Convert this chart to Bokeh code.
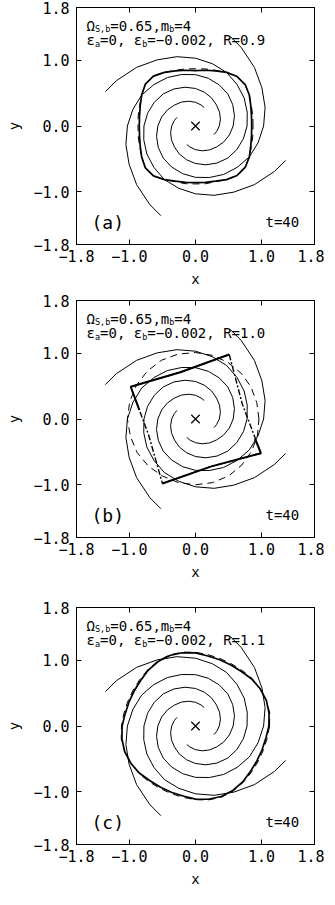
import numpy as np
from bokeh.plotting import figure
from bokeh.models import Range1d, FixedTicker, LinearAxis, Label
from bokeh.layouts import column
from bokeh.embed import file_html
from bokeh.resources import INLINE

FONT = "DejaVu Sans Mono"

# ---------------- data ----------------
ticks = [-1.8, -1.0, 0.0, 1.0, 1.8]
tick_labels = ["\u22121.8", "\u22121.0", "0.0", "1.0", "1.8"]

# one spiral arm, polar (deg, radius), inner end -> outer end
arm_theta = [-295, -285, -270, -255, -240, -225, -210, -195, -180, -165, -150, -135,
             -120, -105, -90, -75, -60, -45, -30, -15, 0, 15, 30, 45, 60, 69]
arm_r = [0.31, 0.33, 0.36, 0.39, 0.42, 0.45, 0.49, 0.53, 0.57, 0.61, 0.65, 0.69,
         0.72, 0.75, 0.78, 0.81, 0.85, 0.89, 0.94, 0.98, 1.03, 1.09, 1.16, 1.26, 1.38, 1.46]
# the four arms (m_b = 4) are copies of it turned by these angles
arm_rotation = [0, 90, 180, 270]

centre_x = [0.0]
centre_y = [0.0]

ang10 = list(range(0, 360, 10))
ang15 = list(range(0, 360, 15))

# panel (a), R = 0.9 : rounded square
a_solid_r = [0.85, 0.86, 0.89, 0.94, 0.98, 0.98, 0.94, 0.89, 0.86,
             0.84, 0.86, 0.89, 0.94, 0.99, 0.99, 0.94, 0.89, 0.86,
             0.85, 0.86, 0.89, 0.94, 0.99, 0.99, 0.94, 0.89, 0.87,
             0.86, 0.87, 0.89, 0.94, 0.98, 0.98, 0.94, 0.89, 0.86]
a_dash_r = [0.87, 0.88, 0.90, 0.94, 0.98, 0.98, 0.94, 0.90, 0.88,
            0.87, 0.88, 0.90, 0.94, 0.99, 0.99, 0.94, 0.90, 0.88,
            0.87, 0.88, 0.90, 0.94, 0.99, 0.99, 0.94, 0.90, 0.89,
            0.88, 0.89, 0.90, 0.94, 0.98, 0.98, 0.94, 0.90, 0.88]

# panel (b), R = 1.0 : tilted square and dashed circle
b_square_x = [0.51, 0.71, 0.99, 0.24, -0.50, -0.71, -0.98, -0.23]
b_square_y = [0.98, 0.22, -0.52, -0.72, -0.98, -0.24, 0.49, 0.71]
b_upper_x = [-0.85, -0.98, -0.23, 0.51]
b_upper_y = [0.14, 0.49, 0.71, 0.98]
b_lower_x = [0.90, 0.99, 0.24, -0.50]
b_lower_y = [-0.30, -0.52, -0.72, -0.98]
b_dash_r = [0.96, 0.96, 0.97, 0.98, 0.99, 1.00, 1.01, 1.02, 1.03, 1.03, 1.03, 1.03,
            1.03, 1.02, 1.02, 1.01, 1.00, 1.00, 1.00, 1.00, 1.00, 0.99, 0.98, 0.97]

# panel (c), R = 1.1 : nearly round
c_solid_r = [1.11, 1.13, 1.14, 1.13, 1.11, 1.08, 1.07, 1.07, 1.08,
             1.11, 1.13, 1.14, 1.13, 1.11, 1.08, 1.07, 1.07, 1.08,
             1.11, 1.13, 1.14, 1.13, 1.11, 1.08, 1.07, 1.07, 1.08,
             1.11, 1.13, 1.14, 1.13, 1.11, 1.08, 1.07, 1.07, 1.08]
c_dash_r = [1.12, 1.14, 1.14, 1.13, 1.12, 1.10, 1.09, 1.09, 1.10,
            1.12, 1.14, 1.15, 1.14, 1.12, 1.10, 1.09, 1.09, 1.10,
            1.12, 1.14, 1.14, 1.13, 1.12, 1.10, 1.09, 1.09, 1.10,
            1.12, 1.14, 1.15, 1.14, 1.12, 1.10, 1.09, 1.09, 1.10]

panel_letters = ["(a)", "(b)", "(c)"]
panel_R = ["0.9", "1.0", "1.1"]
omega_sb = "0.65"
m_b = "4"
eps_a = "0"
eps_b = "\u22120.002"
time_label = "t=40"


# ---------------- helpers ----------------
def polar(theta_deg, r, closed=False):
    th = np.radians(np.asarray(theta_deg, dtype=float))
    rr = np.asarray(r, dtype=float)
    x = rr * np.cos(th)
    y = rr * np.sin(th)
    if closed:
        x = np.append(x, x[0])
        y = np.append(y, y[0])
    return list(x), list(y)


def closed(xs, ys):
    return list(xs) + [xs[0]], list(ys) + [ys[0]]


def make_fig(top, bottom):
    p = figure(frame_width=238, frame_height=237,
               x_range=Range1d(-1.8, 1.8), y_range=Range1d(-1.8, 1.8),
               output_backend="svg", toolbar_location=None,
               min_border_left=76, min_border_right=10,
               min_border_top=top, min_border_bottom=bottom,
               background_fill_color="white", border_fill_color="white")
    p.grid.visible = False
    p.outline_line_color = "black"
    p.outline_line_width = 1
    overrides = dict(zip(ticks, tick_labels))
    for ax in (p.xaxis[0], p.yaxis[0]):
        ax.ticker = FixedTicker(ticks=ticks, minor_ticks=[])
        ax.major_label_overrides = overrides
        ax.major_tick_in = 5
        ax.major_tick_out = 0
        ax.minor_tick_in = 0
        ax.minor_tick_out = 0
        ax.axis_line_color = "black"
        ax.major_tick_line_color = "black"
        ax.major_label_text_font = FONT
        ax.major_label_text_font_size = "15px"
        ax.major_label_text_color = "black"
        ax.axis_label_text_font = FONT
        ax.axis_label_text_font_size = "14px"
        ax.axis_label_text_font_style = "normal"
        ax.axis_label_text_color = "black"
    p.xaxis[0].axis_label = "x"
    p.yaxis[0].axis_label = "y"
    p.xaxis[0].major_label_standoff = 5
    p.xaxis[0].axis_label_standoff = 6
    p.yaxis[0].major_label_standoff = 7
    p.yaxis[0].axis_label_standoff = 8
    for side in ("above", "right"):
        ax = LinearAxis(ticker=FixedTicker(ticks=ticks, minor_ticks=[]),
                        major_label_overrides={t: "" for t in ticks},
                        major_label_text_font_size="0px",
                        major_label_standoff=0,
                        major_tick_in=5, major_tick_out=0,
                        minor_tick_in=0, minor_tick_out=0,
                        axis_line_color="black")
        p.add_layout(ax, side)
    return p


def add_texts(p, letter, R):
    cw = 0.602
    main, sub = 14.0, 8.5

    def run(pieces, x0, y0):
        off = 0.0
        for txt, is_sub in pieces:
            size = sub if is_sub else main
            p.add_layout(Label(x=x0, y=y0, x_offset=off, y_offset=(-3.5 if is_sub else 0),
                               text=txt, text_font=FONT, text_font_size=f"{size}px",
                               text_color="black", text_baseline="alphabetic",
                               text_align="left"))
            off += cw * size * len(txt)

    run([("\u03a9", False), ("S,b", True), ("=" + omega_sb + ",m", False), ("b", True),
         ("=" + m_b, False)], -1.649, 1.52)
    run([("\u03b5", False), ("a", True), ("=" + eps_a + ", ", False), ("\u03b5", False),
         ("b", True), ("=" + eps_b + ", R=" + R, False)], -1.649, 1.30)
    p.add_layout(Label(x=-1.573, y=-1.467, text=letter, text_font=FONT,
                       text_font_size="18px", text_color="black",
                       text_baseline="alphabetic", text_align="left"))
    p.add_layout(Label(x=1.569, y=-1.452, text=time_label, text_font=FONT,
                       text_font_size="14px", text_color="black",
                       text_baseline="alphabetic", text_align="right"))


def add_arms(p):
    xs, ys = [], []
    for rot in arm_rotation:
        x, y = polar(np.asarray(arm_theta) + rot, arm_r)
        xs.append(x)
        ys.append(y)
    p.multi_line(xs, ys, line_color="black", line_width=1)
    p.scatter(centre_x, centre_y, marker="x", size=12, line_color="black", line_width=1.2)


# ---------------- panel (a) ----------------
pa = make_fig(7, 48)
add_arms(pa)
x, y = polar(ang10, a_dash_r, closed=True)
pa.line(x, y, line_color="black", line_width=1, line_dash="7 5")
x, y = polar(ang10, a_solid_r, closed=True)
pa.line(x, y, line_color="black", line_width=1.7)
add_texts(pa, panel_letters[0], panel_R[0])

# ---------------- panel (b) ----------------
pb = make_fig(8, 62)
add_arms(pb)
x, y = polar(ang15, b_dash_r, closed=True)
pb.line(x, y, line_color="black", line_width=1, line_dash="7 5")
x, y = closed(b_square_x, b_square_y)
pb.line(x, y, line_color="black", line_width=1.4, line_dash="6 2 2 2")
pb.line(b_upper_x, b_upper_y, line_color="black", line_width=2)
pb.line(b_lower_x, b_lower_y, line_color="black", line_width=2)
add_texts(pb, panel_letters[1], panel_R[1])

# ---------------- panel (c) ----------------
pc = make_fig(8, 40)
add_arms(pc)
x, y = polar(ang10, c_dash_r, closed=True)
pc.line(x, y, line_color="black", line_width=1, line_dash="7 5")
x, y = polar(ang10, c_solid_r, closed=True)
pc.line(x, y, line_color="black", line_width=1.7)
add_texts(pc, panel_letters[2], panel_R[2])

layout = column(pa, pb, pc, spacing=0)
open("out.html", "w").write(file_html(layout, INLINE))
